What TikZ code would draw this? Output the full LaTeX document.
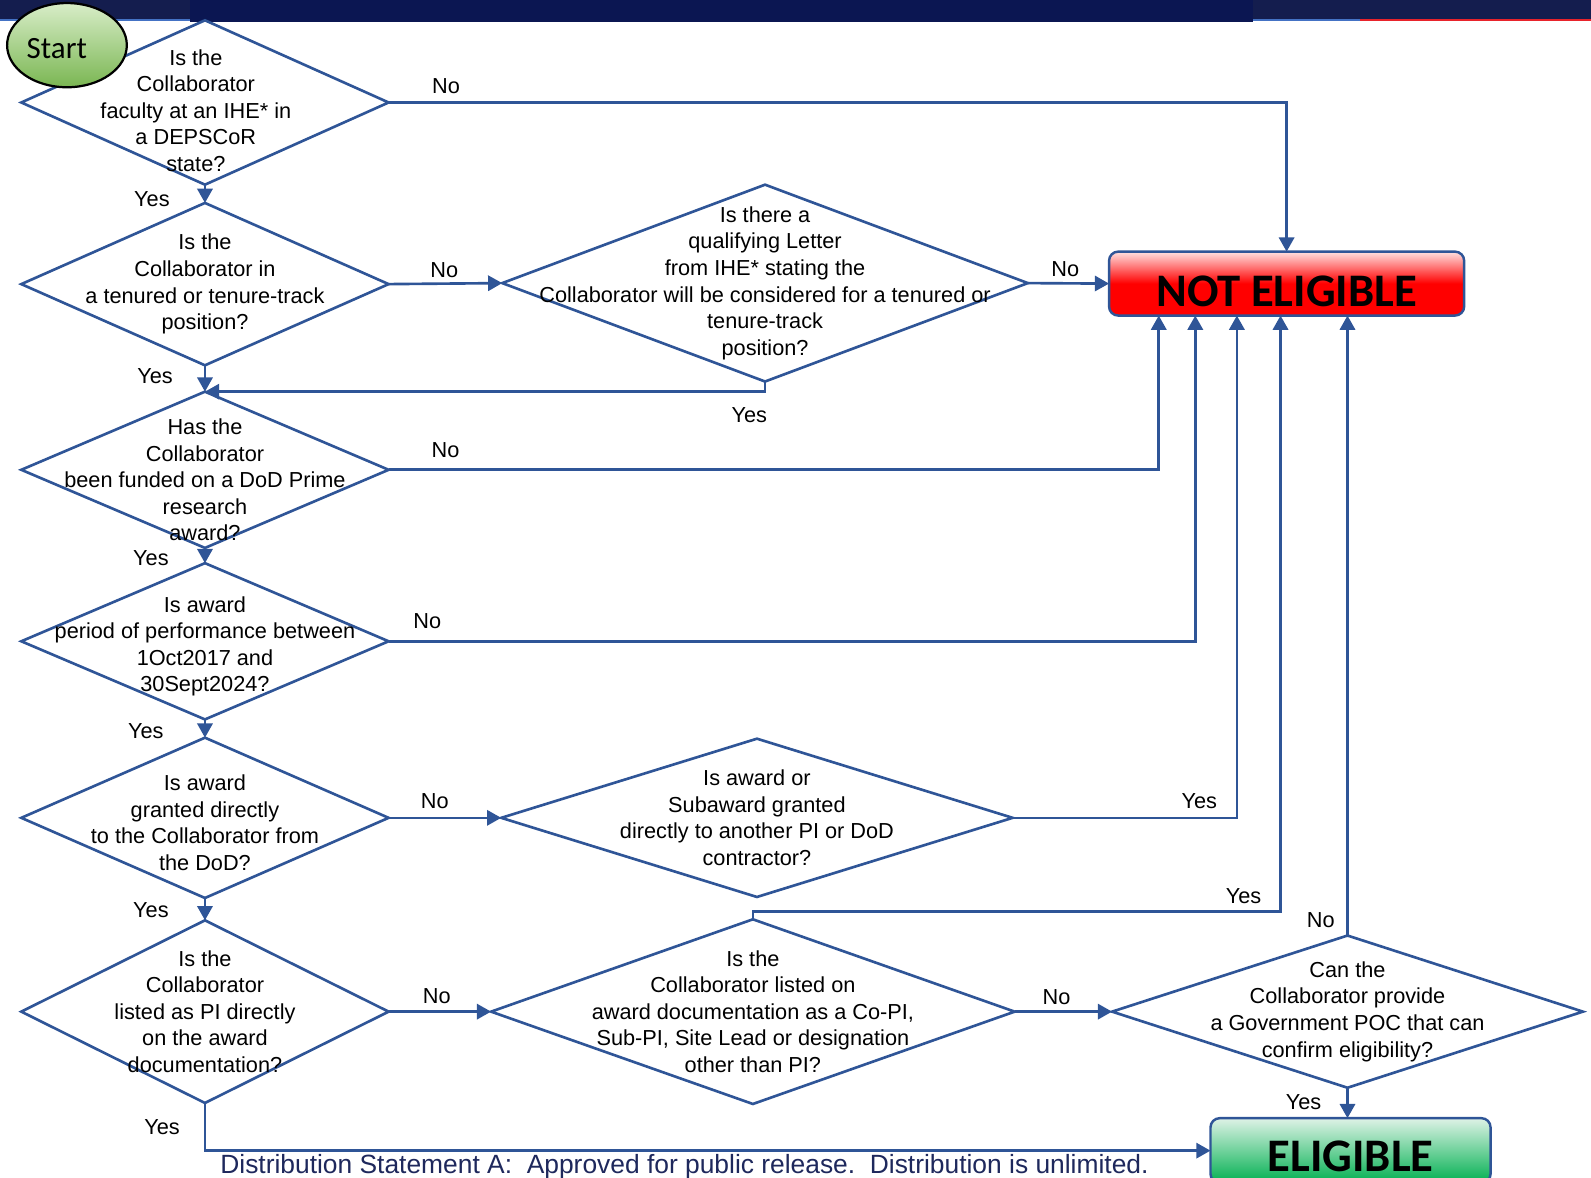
\documentclass[tikz,border=0pt]{standalone}
\usepackage{fontspec}
\setmainfont{Liberation Sans}
\newfontfamily\calibrifont{Carlito}
\usetikzlibrary{arrows.meta,shapes.geometric}
\definecolor{flowblue}{RGB}{47,85,151}
\definecolor{barnavy}{RGB}{20,29,78}
\definecolor{bardark}{RGB}{11,22,82}
\definecolor{barblue}{RGB}{68,114,196}
\definecolor{barred}{RGB}{232,35,43}
\definecolor{distnavy}{RGB}{30,40,92}
\definecolor{startlight}{RGB}{216,237,200}
\definecolor{startdark}{RGB}{122,182,82}
\definecolor{eligtop}{RGB}{222,242,230}
\definecolor{eligbot}{RGB}{0,176,80}
\def\linewd{2.6pt}
\newcommand{\qfont}{\fontsize{21.4}{26.2}\selectfont}

\begin{document}
\begin{tikzpicture}[x=1pt,y=-1pt,
  decision/.style={diamond, draw=flowblue, line width=\linewd, inner sep=0pt, outer sep=0pt},
  qtext/.style={align=center, font=\qfont, inner sep=0pt},
  flow/.style={draw=flowblue, line width=\linewd, -{Triangle[length=14pt,width=15pt]}},
  lbl/.style={font=\qfont, inner sep=2pt},
  result/.style={rectangle, rounded corners=9pt, draw=flowblue, line width=2.4pt, inner sep=0pt, outer sep=0pt, font=\calibrifont\bfseries\fontsize{46}{46}\selectfont}]

\useasboundingbox (0,0) rectangle (1568,1160);
\clip (0,0) rectangle (1568,1160);

% header bar
\fill[barnavy] (0,0) rectangle (187,18.7);
\fill[barblue] (0,18.7) rectangle (187,21);
\fill[bardark] (187,0) rectangle (1235,21.7);
\fill[barnavy] (1235,0) rectangle (1568,18.7);
\fill[barblue] (1235,18.7) rectangle (1340,20.8);
\fill[barred] (1340,18.7) rectangle (1568,20.8);

% questions, left column
\node[decision, minimum width=362pt, minimum height=162pt,
  label={[qtext, xshift=-9pt, yshift=-8pt]center:{Is the\\Collaborator\\faculty at an IHE* in\\a DEPSCoR\\state?}}] (faculty) at (202,101) {};
\node[decision, minimum width=362pt, minimum height=160pt,
  label={[qtext]center:{Is the\\Collaborator in\\a tenured or tenure-track\\position?}}] (tenure) at (202,280) {};
\node[decision, minimum width=362pt, minimum height=154pt,
  label={[qtext, yshift=-10pt]center:{Has the\\Collaborator\\been funded on a DoD Prime\\research\\award?}}] (funded) at (202,463) {};
\node[decision, minimum width=362pt, minimum height=154pt,
  label={[qtext, yshift=-5pt]center:{Is award\\period of performance between\\1Oct2017 and\\30Sept2024?}}] (period) at (202,632) {};
\node[decision, minimum width=362pt, minimum height=158pt,
  label={[qtext, yshift=-5pt]center:{Is award\\granted directly\\to the Collaborator from\\the DoD?}}] (direct) at (202,806) {};
\node[decision, minimum width=362pt, minimum height=180pt,
  label={[qtext]center:{Is the\\Collaborator\\listed as PI directly\\on the award\\documentation?}}] (listed) at (202,997) {};

% questions, further right
\node[decision, minimum width=518pt, minimum height=194pt,
  label={[qtext]center:{Is there a\\qualifying Letter\\from IHE* stating the\\Collaborator will be considered for a tenured or\\tenure-track\\position?}}] (letter) at (754,279) {};
\node[decision, minimum width=504pt, minimum height=156pt,
  label={[qtext]center:{Is award or\\Subaward granted\\directly to another PI or DoD\\contractor?}}] (other) at (746,806) {};
\node[decision, minimum width=516pt, minimum height=182pt,
  label={[qtext]center:{Is the\\Collaborator listed on\\award documentation as a Co-PI,\\Sub-PI, Site Lead or designation\\other than PI?}}] (copi) at (742,997) {};
\node[decision, minimum width=464pt, minimum height=150pt,
  label={[qtext]center:{Can the\\Collaborator provide\\a Government POC that can\\confirm eligibility?}}] (poc) at (1328,997) {};

% start and outcomes
\node[ellipse, draw=black, line width=2.2pt, top color=startlight, bottom color=startdark,
  minimum width=118pt, minimum height=83pt, inner sep=0pt,
  label={[font=\calibrifont\fontsize{30.5}{30.5}\selectfont, xshift=-10pt, yshift=-3pt]center:Start}] (start) at (66,44.5) {};
\node[result, minimum width=350pt, minimum height=63pt, text height=45.6pt, text depth=0pt,
  top color=red!12, bottom color=red, middle color=red] (notelig) at (1268,279.5) {NOT ELIGIBLE};
\node[result, minimum width=276pt, minimum height=64pt, text height=41.6pt, text depth=0pt,
  top color=eligtop, bottom color=eligbot] (elig) at (1331,1134) {ELIGIBLE};

% connectors
\draw[flow] (faculty.east) -| node[lbl, above=5pt, pos=0.032] {No} (notelig.north);
\draw[flow] (faculty.south) -- node[lbl, left=31.5pt, pos=0.78] {Yes} (tenure.north);
\draw[flow] (tenure.east) -- node[lbl, above=2.3pt, pos=0.49] {No} (letter.west);
\draw[flow] (letter.east) -- node[lbl, above=3.3pt, pos=0.46] {No} (notelig.west);
\draw[flow] (tenure.south) -- node[lbl, left=28.5pt, pos=0.4] {Yes} (funded.north);
\draw[flow] (letter.south) |- node[lbl, below=12.3pt, pos=0.514] {Yes} (funded.north);
\draw[flow] (funded.east) -| node[lbl, above=8.3pt, pos=0.037] {No} ([xshift=-126pt]notelig.south);
\draw[flow] (funded.south) -- node[lbl, left=32.5pt, pos=0.67] {Yes} (period.north);
\draw[flow] (period.east) -| node[lbl, above=9.3pt, pos=0.024] {No} ([xshift=-90pt]notelig.south);
\draw[flow] (period.south) -- node[lbl, left=37.5pt, pos=0.63] {Yes} (direct.north);
\draw[flow] (direct.east) -- node[lbl, above=5.3pt, pos=0.41] {No} (other.west);
\draw[flow] (other.east) -| node[lbl, above=5.3pt, pos=0.416] {Yes} ([xshift=-49pt]notelig.south);
\draw[flow] (direct.south) -- node[lbl, left=32.5pt, pos=0.55] {Yes} (listed.north);
\draw[flow] (listed.east) -- node[lbl, above=4.3pt, pos=0.47] {No} (copi.west);
\draw[flow] (copi.north) -- ++(0,-8) -| node[lbl, above=4.3pt, pos=0.465] {Yes} ([xshift=-6pt]notelig.south);
\draw[flow] (copi.east) -- node[lbl, above=3.3pt, pos=0.43] {No} (poc.west);
\draw[flow] (poc.north) -- node[lbl, left=9.3pt, pos=0.025] {No} (poc.north |- notelig.south);
\draw[flow] (poc.south) -- node[lbl, left=22.5pt, pos=0.47] {Yes} (poc.south |- elig.north);
\draw[flow] (listed.south) |- node[lbl, left=21.5pt, pos=0.255] {Yes} (elig.west);

% footer
\node[anchor=base west, inner sep=0pt, text=distnavy, font=\fontsize{26}{30}\selectfont] (dist) at (217,1157)
  {Distribution Statement A:\ \ Approved for public release.\ \ Distribution is unlimited.};
\end{tikzpicture}
\end{document}
